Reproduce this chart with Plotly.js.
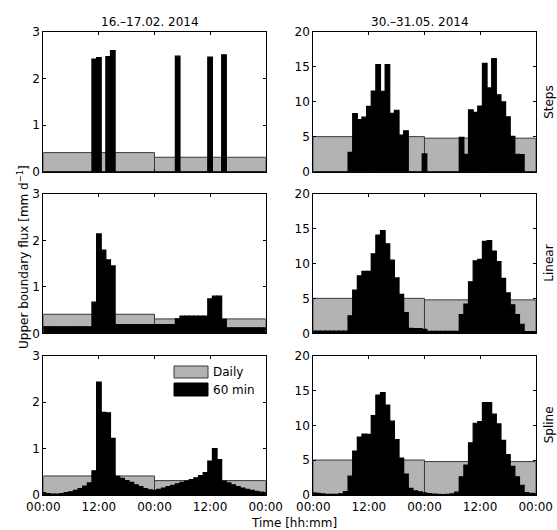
<!DOCTYPE html>
<html><head><meta charset="utf-8">
<script src="https://cdn.plot.ly/plotly-3.0.1.min.js"></script>
<style>html,body{margin:0;padding:0;background:#fff}#chart{width:557px;height:530px}</style>
</head><body><div id="chart"></div>
<script>
// ---- data ----
const hours = [0,1,2,3,4,5,6,7,8,9,10,11,12,13,14,15,16,17,18,19,20,21,22,23,24,25,26,27,28,29,30,31,32,33,34,35,36,37,38,39,40,41,42,43,44,45,46,47,48];
const dayCenters = [12, 36];
const tickVals = [0, 12, 24, 36, 48];
const tickText = ['00:00', '12:00', '00:00', '12:00', '00:00'];
const colTitles = ['16.–17.02. 2014', '30.–31.05. 2014'];
const rowNames = ['Steps', 'Linear', 'Spline'];
const legendNames = ['Daily', '60 min'];

const febDaily = [0.41, 0.31];
const mayDaily = [5.02, 4.8];

const febSteps = [0,0,0,0,0,0,0,0,0,0,0,2.42,2.45,0,2.47,2.6,0,0,0,0,0,0,0,0,0,
  0,0,0,0,2.48,0,0,0,0,0,0,2.46,0,0,2.51,0,0,0,0,0,0,0,0,0];
const febLinear = [0.14,0.14,0.14,0.14,0.14,0.14,0.14,0.14,0.14,0.14,0.14,0.67,2.14,1.79,1.58,1.45,0.19,0.19,0.19,0.19,0.19,0.19,0.19,0.19,0.19,
  0.19,0.19,0.19,0.19,0.31,0.37,0.37,0.37,0.37,0.37,0.37,0.74,0.8,0.8,0.3,0.12,0.12,0.12,0.12,0.12,0.12,0.12,0.12,0.12];
const febSpline = [0.05,0.03,0.02,0.02,0.03,0.05,0.07,0.1,0.14,0.19,0.26,0.52,2.43,1.78,1.77,1.22,0.4,0.36,0.31,0.27,0.22,0.18,0.14,0.11,0.1,
  0.12,0.15,0.18,0.21,0.24,0.27,0.3,0.33,0.37,0.42,0.48,0.73,1.0,0.76,0.3,0.26,0.22,0.18,0.15,0.12,0.1,0.08,0.06,0.05];

const maySteps = [0,0,0,0,0,0,0,0,2.77,8.3,7.45,7.8,9.35,11.55,15.35,11.5,15.35,8.35,8.8,5.25,5.85,0,0,0,2.54,
  0,0,0,0,0,0,0,4.9,2.5,8.85,8.5,9.4,15.5,12.0,16.2,11.0,10.0,7.85,5.05,2.5,2.45,0,0,0];
const mayLinear = [0.3,0.3,0.3,0.3,0.3,0.3,0.3,0.3,2.52,6.2,8.25,8.9,8.9,11.4,14.1,14.75,12.85,10.5,7.95,5.6,2.98,0.7,0.68,0.66,0.55,
  0.27,0.27,0.27,0.27,0.27,0.27,0.27,2.7,4.2,7.4,10.4,10.6,13.2,13.3,11.8,10.3,7.9,5.8,4.1,2.7,1.3,0.25,0.25,0.25];
const maySpline = [0.3,0.22,0.15,0.1,0.08,0.1,0.18,0.5,2.7,6.3,8.3,8.75,8.7,11.4,14.35,14.7,12.9,10.6,7.95,5.3,3.0,0.96,0.6,0.45,0.3,
  0.2,0.12,0.08,0.07,0.09,0.15,0.4,2.6,4.3,7.5,10.3,10.55,13.25,13.25,11.6,10.2,7.85,5.8,4.1,2.6,1.4,0.35,0.25,0.2];

const hourly = [[febSteps, maySteps], [febLinear, mayLinear], [febSpline, maySpline]];
const daily = [febDaily, mayDaily];
const yMax = [3, 20];
const yTicks = [[0, 1, 2, 3], [0, 5, 10, 15, 20]];

// ---- layout geometry ----
const W = 557, H = 530;
const colX = [[43.3, 265.7], [313.3, 535.7]];
const rowY = [[32, 171.7], [194, 333.3], [355.7, 495]];
const FONT = 'DejaVu Sans';

const traces = [];
const layout = {
  width: W, height: H, margin: {l: 0, r: 0, t: 0, b: 0},
  paper_bgcolor: '#fff', plot_bgcolor: '#fff',
  barmode: 'overlay', showlegend: false,
  font: {family: FONT, size: 12, color: '#000'},
  annotations: [], shapes: []
};

let n = 0;
for (let r = 0; r < 3; r++) {
  for (let c = 0; c < 2; c++) {
    n++;
    const xa = n === 1 ? 'x' : 'x' + n;
    const ya = n === 1 ? 'y' : 'y' + n;
    traces.push({
      type: 'bar', x: dayCenters, y: daily[c], width: 24, xaxis: xa, yaxis: ya,
      name: legendNames[0],
      marker: {color: '#b3b3b3', line: {color: '#3a3a3a', width: 1}}
    });
    traces.push({
      type: 'bar', x: hours, y: hourly[r][c], width: 1, xaxis: xa, yaxis: ya,
      name: legendNames[1],
      marker: {color: '#000', line: {color: '#000', width: 1.2}}
    });
    const xk = n === 1 ? 'xaxis' : 'xaxis' + n;
    const yk = n === 1 ? 'yaxis' : 'yaxis' + n;
    layout[xk] = {
      domain: [colX[c][0] / W, colX[c][1] / W], anchor: ya,
      range: [0, 48], tickvals: tickVals, ticktext: tickText,
      showticklabels: r === 2, ticks: 'inside', ticklen: 3, tickcolor: '#000',
      ticklabelstandoff: 1,
      showline: true, linecolor: '#000', linewidth: 1, mirror: 'allticks',
      showgrid: false, zeroline: false, fixedrange: true,
      tickfont: {family: FONT, size: 12, color: '#000'}
    };
    layout[yk] = {
      domain: [1 - rowY[r][1] / H, 1 - rowY[r][0] / H], anchor: xa,
      range: [0, yMax[c]], tickvals: yTicks[c],
      ticks: 'inside', ticklen: 3, tickcolor: '#000',
      showline: true, linecolor: '#000', linewidth: 1, mirror: 'allticks',
      showgrid: false, zeroline: false, fixedrange: true,
      tickfont: {family: FONT, size: 12, color: '#000'}
    };
  }
  layout.annotations.push({
    xref: 'paper', yref: 'paper', x: 549 / W, y: 1 - (rowY[r][0] + rowY[r][1]) / 2 / H,
    text: rowNames[r], textangle: -90, showarrow: false, xanchor: 'center', yanchor: 'middle',
    font: {family: FONT, size: 12, color: '#000'}
  });
}
// column titles
[150, 420].forEach((cx, c) => layout.annotations.push({
  xref: 'paper', yref: 'paper', x: cx / W, y: 1 - 22 / H, text: colTitles[c],
  showarrow: false, xanchor: 'center', yanchor: 'middle', font: {family: FONT, size: 12, color: '#000'}
}));
// axis titles
layout.annotations.push({
  xref: 'paper', yref: 'paper', x: 23 / W, y: 1 - 257 / H,
  text: 'Upper boundary flux [mm d<sup>−1</sup>]', textangle: -90, showarrow: false,
  xanchor: 'center', yanchor: 'middle', font: {family: FONT, size: 12, color: '#000'}
});
layout.annotations.push({
  xref: 'paper', yref: 'paper', x: 294 / W, y: 1 - 522.5 / H, text: 'Time [hh:mm]',
  showarrow: false, xanchor: 'center', yanchor: 'middle', font: {family: FONT, size: 12, color: '#000'}
});
// legend (manual, inside bottom-left panel)
layout.shapes.push({type: 'rect', xref: 'paper', yref: 'paper',
  x0: 174 / W, x1: 208 / W, y0: 1 - 378 / H, y1: 1 - 366 / H,
  fillcolor: '#b3b3b3', line: {color: '#3a3a3a', width: 1}});
layout.shapes.push({type: 'rect', xref: 'paper', yref: 'paper',
  x0: 174 / W, x1: 208 / W, y0: 1 - 396 / H, y1: 1 - 383 / H,
  fillcolor: '#000', line: {color: '#000', width: 1}});
[372, 389.5].forEach((yy, i) => layout.annotations.push({
  xref: 'paper', yref: 'paper', x: 211 / W, y: 1 - yy / H, text: legendNames[i],
  showarrow: false, xanchor: 'left', yanchor: 'middle', font: {family: FONT, size: 12, color: '#000'}
}));

Plotly.newPlot('chart', traces, layout, {displayModeBar: false, staticPlot: true});
</script></body></html>
